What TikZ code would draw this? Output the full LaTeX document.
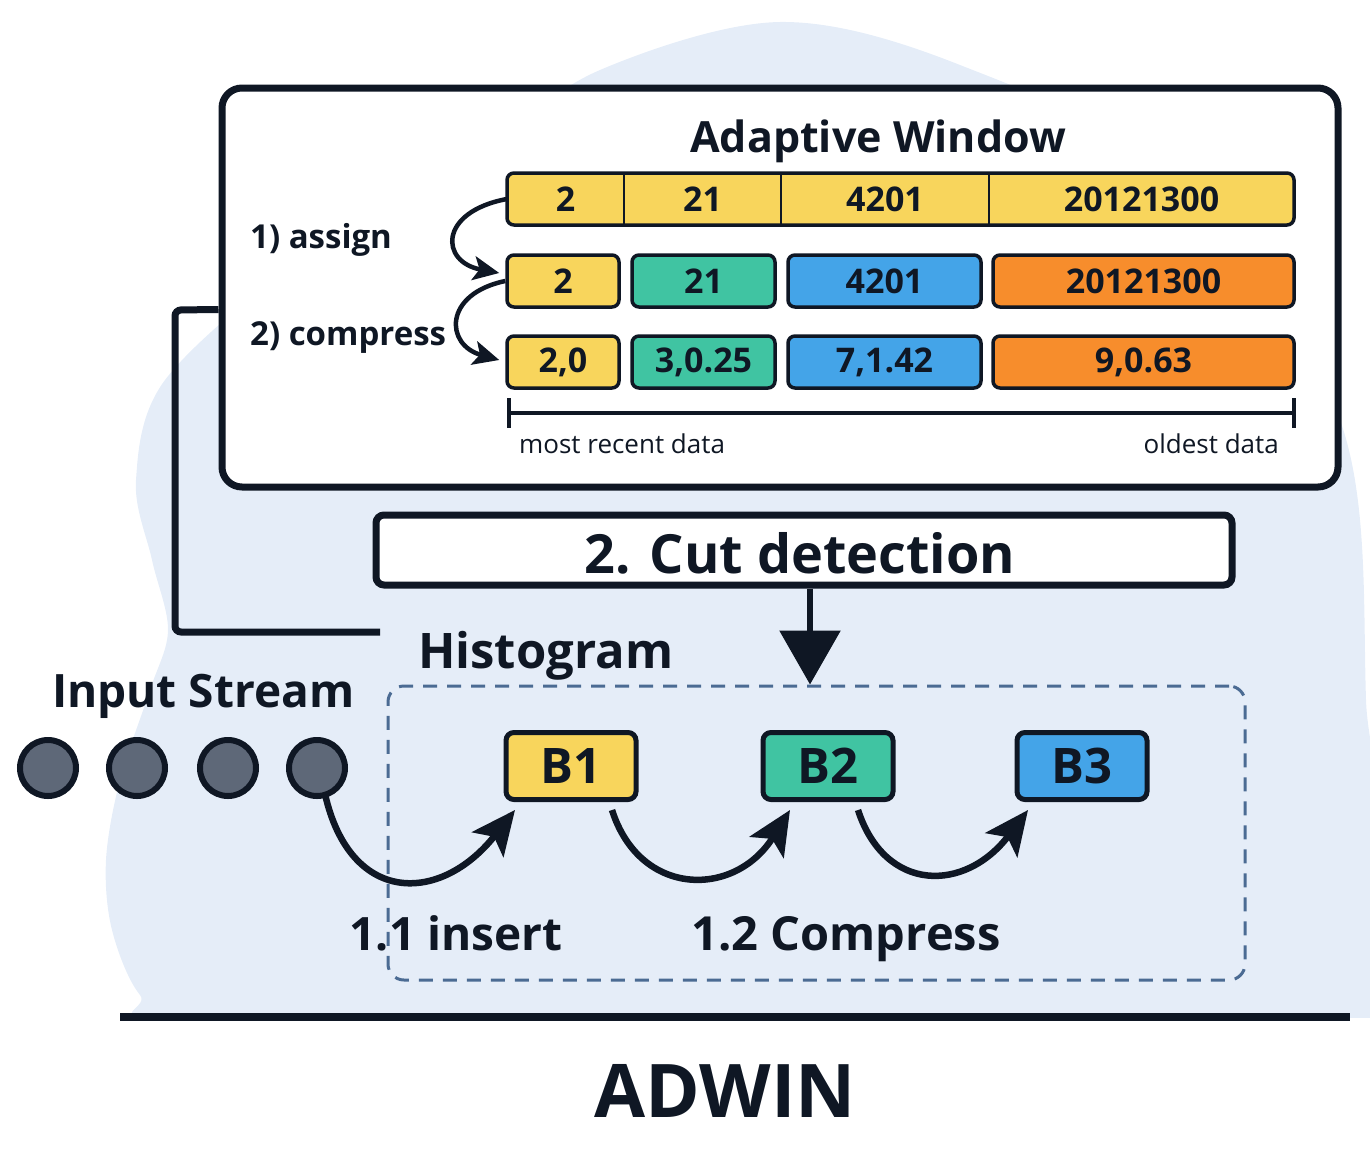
\documentclass[tikz,border=0pt]{standalone}
\usepackage{fontspec}
\setmainfont{Open Sans}
\usetikzlibrary{arrows.meta,calc}
\definecolor{ink}{HTML}{0F1724}
\definecolor{blob}{HTML}{E5EDF8}
\definecolor{cyel}{HTML}{F8D55C}
\definecolor{cteal}{HTML}{40C4A2}
\definecolor{cblue}{HTML}{44A4E8}
\definecolor{corng}{HTML}{F78D2C}
\definecolor{cdot}{HTML}{5E6878}
\definecolor{dashc}{HTML}{4B6B93}
\newcommand{\fs}[1]{\fontsize{#1}{#1}\selectfont}
\tikzset{
  cell/.style={inner sep=0pt, minimum height=52pt, text=ink, font=\fs{34}\bfseries},
  wcell/.style={cell, draw=ink, line width=3.5pt, rounded corners=7pt},
  bbox/.style={draw=ink, line width=5pt, rounded corners=8pt, minimum width=130pt, minimum height=67pt, inner sep=0pt, font=\fs{49}\bfseries, text=ink},
  dot/.style={circle, draw=ink, line width=6pt, fill=cdot, minimum size=56pt, inner sep=0pt},
  bigarr/.style={draw=ink, line width=6.5pt, -{Stealth[length=44pt,width=40pt,inset=10pt]}},
  smallarr/.style={draw=ink, line width=4.5pt, -{Stealth[length=26pt,width=24pt,inset=6pt]}},
  lbl/.style={inner sep=0pt, text=ink, font=\bfseries},
}
\begin{document}
\begin{tikzpicture}[x=1pt,y=-1pt]
\useasboundingbox (0,0) rectangle (1370,1148);
% background blob
\begin{scope}
\clip (0,0) rectangle (1370,1017);
\fill[blob] plot[smooth cycle, tension=0.55] coordinates {
 (190,1025) (140,995) (112,930) (106,860) (120,780) (150,690) (168,630) (152,560) (136,480)
 (165,380) (300,260) (480,150)
 (600,70) (780,22) (960,65) (1180,180) (1340,420) (1366,700) (1360,1030) (800,1040)};
\end{scope}
% window frame
\node[draw=ink, fill=white, line width=7pt, rounded corners=20pt, minimum width=1116pt, minimum height=399pt, inner sep=0pt] (win) at (780,287.5) {};
\node[lbl, anchor=base, font=\fs{43}\bfseries] (awt) at (878,152) {Adaptive Window};
% row 1
\fill[cyel, rounded corners=7pt] (507,173) rectangle (1294,225);
\node[cell, minimum width=117pt] (r1a) at (565.5,199) {2};
\node[cell, minimum width=157pt] (r1b) at (702.5,199) {21};
\node[cell, minimum width=208pt] (r1c) at (885,199) {4201};
\node[cell, minimum width=305pt] (r1d) at (1141.5,199) {20121300};
\draw[ink, line width=2.5pt] (r1a.north east) -- (r1a.south east);
\draw[ink, line width=2.5pt] (r1b.north east) -- (r1b.south east);
\draw[ink, line width=2.5pt] (r1c.north east) -- (r1c.south east);
\draw[ink, line width=3.5pt, rounded corners=7pt] (507,173) rectangle (1294,225);
% row 2
\node[wcell, fill=cyel, minimum width=112pt] (r2a) at (563,281) {2};
\node[wcell, fill=cteal, minimum width=143pt] (r2b) at (703.5,281) {21};
\node[wcell, fill=cblue, minimum width=193pt] (r2c) at (884.5,281) {4201};
\node[wcell, fill=corng, minimum width=301pt] (r2d) at (1143.5,281) {20121300};
% row 3
\node[wcell, fill=cyel, minimum width=112pt] (r3a) at (563,362) {2,0};
\node[wcell, fill=cteal, minimum width=143pt] (r3b) at (703.5,362) {3,0.25};
\node[wcell, fill=cblue, minimum width=193pt] (r3c) at (884.5,362) {7,1.42};
\node[wcell, fill=corng, minimum width=301pt] (r3d) at (1143.5,362) {9,0.63};
% labels
\node[lbl, anchor=base west, font=\fs{33}\bfseries] (asg) at (250,248) {1) assign};
\node[lbl, anchor=base west, font=\fs{33}\bfseries] (cmp) at (250,345) {2) compress};
\draw[smallarr] (r1a.west) .. controls (438,212) and (440,262) .. ([xshift=-6pt,yshift=8pt]r2a.west);
\draw[smallarr] (r2a.west) .. controls (443,294) and (445,345) .. ([xshift=-6pt,yshift=2pt]r3a.west);
% scale
\coordinate (sl) at (509,413);
\coordinate (sr) at (1294,413);
\draw[ink, line width=4pt] (sl) -- (sr);
\draw[ink, line width=4pt] ([yshift=15pt]sl) -- ([yshift=-15pt]sl);
\draw[ink, line width=4pt] ([yshift=15pt]sr) -- ([yshift=-15pt]sr);
\node[inner sep=0pt, anchor=base west, text=ink, font=\fs{26}] (mr) at (519,453) {most recent data};
\node[inner sep=0pt, anchor=base east, text=ink, font=\fs{26}] (od) at (1279,453) {oldest data};
% cut detection
\node[draw=ink, fill=white, line width=7pt, rounded corners=8pt, minimum width=856pt, minimum height=70pt, inner sep=0pt] (cut) at (804,550) {};
\node[lbl, anchor=base, font=\fs{54}\bfseries] (cutt) at (800,573) {2. Cut detection};
% histogram box
\node[draw=dashc, line width=3pt, dash pattern=on 14pt off 10pt, rounded corners=16pt, minimum width=857pt, minimum height=294pt, inner sep=0pt] (hist) at (816.5,833) {};
\node[lbl, anchor=base west, font=\fs{49}\bfseries] (histt) at (418,668) {Histogram};
\draw[ink, line width=6pt, -{Triangle[length=54pt,width=60pt]}] ([xshift=6pt]cut.south) -- ([xshift=6pt]cut.south |- hist.north);
% connector
\coordinate (hj) at (380,632);
\draw[ink, line width=7pt, rounded corners=6pt] ([yshift=-22pt]win.west) -- (175,310) |- (hj);
% input stream
\node[lbl, anchor=base west, font=\fs{46}\bfseries] (inp) at (52,707) {Input Stream};
\node[dot] (c1) at (48,768) {};
\node[dot] (c2) at (137,768) {};
\node[dot] (c3) at (228,768) {};
\node[dot] (c4) at (317,768) {};
% buckets
\node[bbox, fill=cyel] (b1) at (571,766) {B1};
\node[bbox, fill=cteal] (b2) at (828,766) {B2};
\node[bbox, fill=cblue] (b3) at (1082,766) {B3};
\draw[bigarr] ([xshift=8pt,yshift=-26pt]c4.center) .. controls (350,905) and (440,905) .. ([xshift=-56pt,yshift=-8pt]b1.south);
\draw[bigarr] ([xshift=41pt,yshift=-8pt]b1.south) .. controls (640,898) and (735,898) .. ([xshift=-38pt,yshift=-8pt]b2.south);
\draw[bigarr] ([xshift=30pt,yshift=-8pt]b2.south) .. controls (885,893) and (965,893) .. ([xshift=-54pt,yshift=-8pt]b3.south);
\node[lbl, anchor=base, font=\fs{46}\bfseries] (ins) at (456,950) {1.1 insert};
\node[lbl, anchor=base, font=\fs{47}\bfseries] (cps) at (846,950) {1.2 Compress};
% base line
\coordinate (gl) at (120,1017);
\coordinate (gr) at (1350,1017);
\draw[ink, line width=8pt] (gl) -- (gr);
\node[lbl, anchor=base, font=\fs{74}\bfseries] (adw) at (725,1117) {ADWIN};
\end{tikzpicture}
\end{document}
